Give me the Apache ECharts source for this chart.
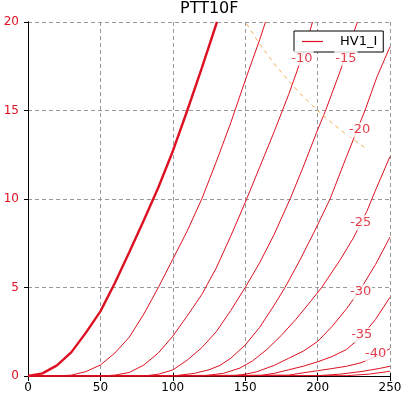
<!DOCTYPE html>
<html>
<head>
<meta charset="utf-8">
<script src="https://cdn.jsdelivr.net/npm/echarts@6/dist/echarts.min.js"></script>
<style>
  html, body { margin: 0; padding: 0; background: #fff; }
  #chart { width: 409px; height: 399px; }
</style>
</head>
<body>
<div id="chart"></div>
<script>
// plate voltage (V) vs plate current (mA), one array per grid voltage
var ia_g0   = [[0,0],[10,0.15],[20,0.6],[30,1.35],[40,2.45],[50,3.65],[60,5.25],[70,7.0],[80,8.8],[90,10.65],[100,12.7],[110,15.0],[120,17.4],[130.5,20]];
var ia_g5   = [[0,0],[20,0],[30,0.05],[40,0.25],[50,0.62],[60,1.3],[70,2.2],[80,3.5],[90,5.0],[100,6.6],[110,8.2],[120,10.0],[130,12.1],[140,14.3],[150,16.7],[160,19.0],[164,20]];
var ia_g10  = [[0,0],[50,0],[60,0.05],[70,0.2],[80,0.62],[90,1.3],[100,2.25],[110,3.4],[120,4.6],[130,6.1],[140,7.9],[150,9.8],[160,11.8],[170,13.8],[180,15.9],[190,18.2],[196.5,20]];
var ia_g15  = [[0,0],[80,0],[90,0.1],[100,0.34],[110,0.9],[120,1.6],[130,2.5],[140,3.7],[150,5.0],[160,6.4],[170,8.0],[181,10],[190,11.8],[200,13.9],[205.5,15],[215.5,17.2],[227.5,20]];
var ia_g20  = [[0,0],[100,0],[115,0.15],[125,0.35],[132.6,0.6],[140,1.0],[150,1.75],[160,2.75],[170,4.0],[177.5,5.0],[187.8,6.55],[198,8.2],[208.6,10],[220,12.4],[232.7,15],[241,16.9],[250,18.6]];
var ia_g25  = [[0,0],[120,0],[135,0.15],[146.4,0.45],[155,0.85],[165,1.5],[175,2.3],[185,3.2],[195,4.2],[202.8,5.0],[215.5,6.55],[224.7,7.8],[234,9.3],[240,10.5],[250,12.4]];
var ia_g30  = [[0,0],[140,0],[150,0.1],[158,0.24],[170,0.6],[180,1.0],[190,1.4],[200,1.95],[210,2.8],[220,3.8],[230,4.95],[240,6.3],[250,7.85]];
var ia_g35  = [[0,0],[160,0.02],[170,0.15],[180,0.35],[190,0.55],[200,0.8],[210,1.1],[220,1.5],[230,2.2],[240,3.2],[250,4.45]];
var ia_g40  = [[0,0],[180,0.05],[190,0.18],[200,0.3],[210,0.42],[220,0.55],[230,0.75],[240,1.1],[250,1.55]];
var ia_g45  = [[0,0],[200,0.02],[215,0.1],[230,0.25],[243,0.43],[250,0.55]];
var ia_g50  = [[0,0],[220,0.02],[235,0.1],[247.7,0.24],[250,0.27]];

// 3 W plate dissipation limit
var pmax = [[151,19.9],[160,18.75],[170,17.65],[180,16.67],[190,15.79],[200,15.0],[210,14.29],[220,13.64],[234,12.82]];

// grid voltage labels written along the curves
var gridLabels = [[189.2,17.95,'-10'],[219.6,17.95,'-15'],[229,13.9,'-20'],[229.8,8.66,'-25'],[229.8,4.75,'-30'],[230.5,2.32,'-35'],[240.1,1.28,'-40']];

var RED = '#dd1122';
var FONT = 'DejaVu Sans';

var curves = [ia_g0, ia_g5, ia_g10, ia_g15, ia_g20, ia_g25, ia_g30, ia_g35, ia_g40, ia_g45, ia_g50];

var series = curves.map(function (d, i) {
  return {
    name: 'HV1_I',
    type: 'line',
    data: d,
    symbol: 'none',
    z: 2,
    lineStyle: { color: RED, width: i === 0 ? 2.4 : 1 },
    itemStyle: { color: RED }
  };
});

series.push({
  name: 'Pmax',
  type: 'line',
  data: pmax,
  symbol: 'none',
  z: 2,
  lineStyle: { color: '#f5aa50', width: 1, type: [4, 4] }
});

series.push({
  name: 'labels',
  type: 'scatter',
  data: gridLabels,
  symbolSize: 0,
  z: 5,
  label: {
    show: true,
    position: 'inside',
    formatter: function (p) { return p.value[2]; },
    color: RED,
    fontFamily: FONT,
    fontSize: 13,
    backgroundColor: '#fff',
    padding: [1, 1]
  }
});

var myChart = echarts.init(document.getElementById('chart'));

var option = {
  animation: false,
  title: {
    text: 'PTT10F',
    left: 180,
    top: 1,
    padding: 0,
    textStyle: { fontFamily: FONT, fontSize: 16, fontWeight: 'normal', color: '#000' }
  },
  legend: {
    data: ['HV1_I'],
    left: 294,
    top: 31,
    z: 3,
    padding: [4, 6, 4, 8],
    icon: 'path://M0,0 L21,0 L21,1.2 L0,1.2 Z',
    itemWidth: 21,
    itemHeight: 1.2,
    itemStyle: { color: RED, borderWidth: 0, opacity: 1 },
    backgroundColor: '#fff',
    borderColor: '#000',
    borderWidth: 1,
    borderRadius: 0,
    textStyle: { fontFamily: FONT, fontSize: 13, color: '#000', padding: [0, 0, 0, 12] }
  },
  grid: { left: 28, right: 19, top: 22, bottom: 23, containLabel: false },
  xAxis: [{
    type: 'value',
    min: 0, max: 250, interval: 50,
    axisLine: { lineStyle: { color: '#000', width: 1 } },
    axisTick: { inside: true, length: 3, lineStyle: { color: '#000' } },
    axisLabel: { color: '#000', fontFamily: FONT, fontSize: 12, margin: 6 },
    splitLine: { show: true, lineStyle: { color: '#999', type: [4, 3], width: 1 } }
  }, {
    type: 'value', position: 'top',
    min: 0, max: 250, interval: 50,
    axisLine: { show: true, lineStyle: { color: '#000', width: 1 } },
    axisTick: { show: true, inside: true, length: 5, lineStyle: { color: '#000' } },
    axisLabel: { show: false },
    splitLine: { show: false }
  }],
  yAxis: [{
    type: 'value',
    min: 0, max: 20, interval: 5,
    axisLine: { show: true, lineStyle: { color: '#000', width: 1 } },
    axisTick: { show: true, length: 2, lineStyle: { color: '#000' } },
    axisLabel: { color: RED, fontFamily: FONT, fontSize: 12, margin: 9 },
    splitLine: { show: true, lineStyle: { color: '#999', type: [4, 3], width: 1 } }
  }, {
    type: 'value', position: 'right',
    min: 0, max: 20, interval: 5,
    axisLine: { show: true, lineStyle: { color: '#000', width: 1 } },
    axisTick: { show: true, inside: true, length: 4, lineStyle: { color: '#000' } },
    axisLabel: { show: false },
    splitLine: { show: false }
  }],
  series: series
};

myChart.setOption(option);
</script>
</body>
</html>
